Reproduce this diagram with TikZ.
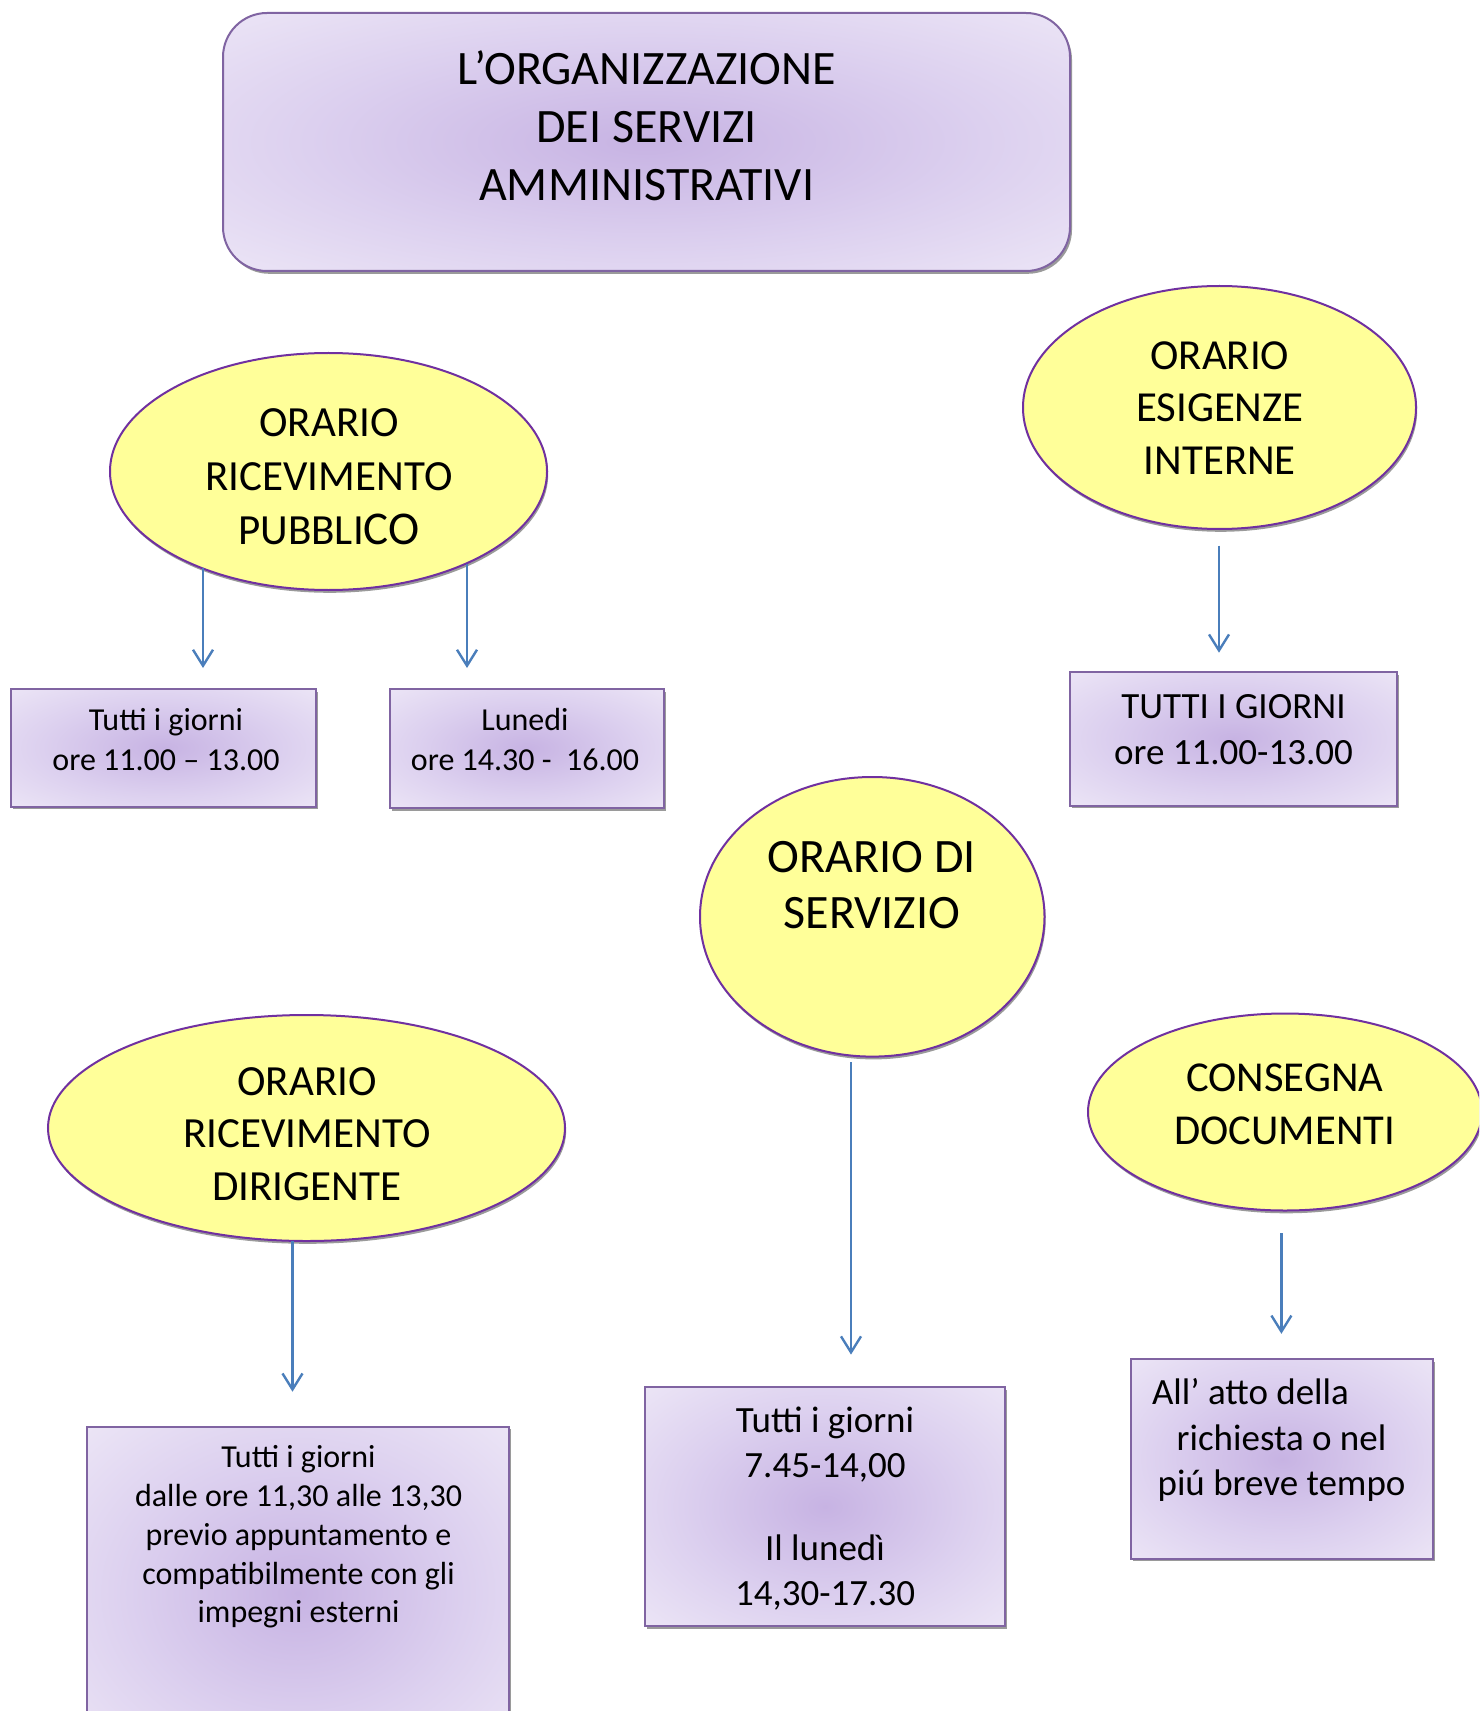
\documentclass[tikz,border=0pt]{standalone}
\usepackage{fontspec}
\setmainfont{Carlito}
\usetikzlibrary{shapes.geometric,arrows.meta,shadows}
\definecolor{ellfill}{HTML}{FFFF99}
\definecolor{ellline}{HTML}{7030A0}
\definecolor{boxline}{HTML}{8064A2}
\definecolor{pin}{HTML}{C7B3E3}
\definecolor{pmid}{HTML}{DCD0EF}
\definecolor{pout}{HTML}{EEE8F7}
\definecolor{arrcol}{HTML}{4A7EBB}
\definecolor{shcol}{HTML}{9A9A9A}
\pgfdeclareradialshading{purpglow}{\pgfpoint{0bp}{0bp}}{color(0bp)=(pin); color(20bp)=(pmid); color(38bp)=(pout); color(50bp)=(pout)}
\tikzset{
  ell/.style={ellipse, draw=ellline, line width=1pt, fill=ellfill, inner sep=0pt, outer sep=0pt,
    drop shadow={shadow xshift=0.6pt, shadow yshift=-1.4pt, fill=shcol, opacity=1}},
  pbox/.style={rectangle, draw=boxline, line width=1pt, shading=purpglow, inner sep=0pt, outer sep=0pt,
    drop shadow={shadow xshift=1pt, shadow yshift=-1.4pt, fill=shcol, opacity=1}},
  tbox/.style={pbox, rounded corners=22pt},
  txt/.style={align=center, inner sep=0pt, text=black},
  arr/.style={draw=arrcol, line width=1.2pt, -{Straight Barb[length=8pt,width=10pt,line width=1.2pt]}},
}
\begin{document}
\begin{tikzpicture}[x=0.5pt,y=-0.5pt]
\useasboundingbox (0,0) rectangle (1479,1711);
\clip (0,0) rectangle (1479,1711);
\fill[white] (0,0) rectangle (1479,1711);
% title
\node[tbox, minimum width=423.5pt, minimum height=129pt] (title) at (646.5,142) {};
\node[txt, font=\fontsize{24}{29}\selectfont] (titlet) at (646.7,125.5) {L’ORGANIZZAZIONE\\DEI SERVIZI\\AMMINISTRATIVI};
% ellipses
\node[ell, minimum width=218.5pt, minimum height=118.5pt] (e1) at (328.5,471.5) {};
\node[txt, font=\fontsize{21.5}{27}\selectfont] (e1t) at (329,476.8) {ORARIO\\RICEVIMENTO\\PUBBLI{\fontsize{23.5}{27}\selectfont CO}};
\node[ell, minimum width=196.5pt, minimum height=121.5pt] (e2) at (1219.5,407.5) {};
\node[txt, font=\fontsize{21.4}{26.3}\selectfont] (e2t) at (1219.8,407.8) {ORARIO\\ESIGENZE\\INTERNE};
\node[ell, minimum width=172.25pt, minimum height=139.8pt] (e3) at (872.25,916.8) {};
\node[txt, font=\fontsize{24}{28.3}\selectfont] (e3t) at (872,885) {ORARIO DI\\SERVIZIO};
\node[ell, minimum width=258.5pt, minimum height=113pt] (e4) at (306.5,1128) {};
\node[txt, font=\fontsize{21.5}{26.2}\selectfont] (e4t) at (307,1134) {ORARIO\\RICEVIMENTO\\DIRIGENTE};
\node[ell, minimum width=197pt, minimum height=98.5pt] (e5) at (1285,1112) {};
\node[txt, font=\fontsize{21.3}{26.2}\selectfont] (e5t) at (1284.7,1104.5) {CONSEGNA\\DOCUMENTI};
% boxes
\node[pbox, minimum width=152.25pt, minimum height=58.8pt] (bA) at (163.25,747.8) {};
\node[txt, font=\fontsize{16}{20}\selectfont] (bAt) at (166,740) {Tutti i giorni\\ore 11.00 – 13.00};
\node[pbox, minimum width=136.95pt, minimum height=59.5pt] (bB) at (526.65,748.5) {};
\node[txt, font=\fontsize{16}{20}\selectfont] (bBt) at (525,740) {Lunedi\\ore 14.30 -\ \ 16.00};
\node[pbox, minimum width=163.5pt, minimum height=66.75pt] (bC) at (1233.5,738.75) {};
\node[txt, font=\fontsize{18.5}{23}\selectfont] (bCt) at (1233.5,730) {TUTTI I GIORNI\\ore 11.00-13.00};
\node[pbox, minimum width=210.8pt, minimum height=166.7pt] (bD) at (297.8,1593.3) {};
\node[txt, font=\fontsize{16}{19.4}\selectfont] (bDt) at (298.5,1537) {Tutti i giorni\\dalle ore 11,30 alle 13,30\\previo appuntamento e\\compatibilmente con gli\\impegni esterni};
\node[pbox, minimum width=180pt, minimum height=119.5pt] (bE) at (825,1506.5) {};
\node[txt, font=\fontsize{18.5}{22.5}\selectfont] (bEt) at (825,1508.5) {Tutti i giorni\\7.45-14,00\\[19pt]Il lunedì\\14,30-17.30};
\node[pbox, minimum width=151pt, minimum height=99.8pt] (bF) at (1282,1458.8) {};
\node[txt, font=\fontsize{18.5}{22.9}\selectfont] (bFt) at (1281.5,1440) {All’ atto della\hspace*{31pt}\\richiesta o nel\\piú breve tempo};
% arrows
\coordinate (a1e) at (203,668);
\coordinate (a2e) at (467,668);
\coordinate (a3s) at (1219,545.7);
\coordinate (a3e) at (1219,652.7);
\coordinate (a4e) at (292.5,1391.7);
\coordinate (a5s) at (851,1062);
\coordinate (a5e) at (851,1354.6);
\coordinate (a6s) at (1281.4,1233.4);
\coordinate (a6e) at (1281.4,1333.8);
\draw[arr] (e1.217.65 -| a1e) -- (a1e);
\draw[arr] (e1.326.5 -| a2e) -- (a2e);
\draw[arr] (a3s) -- (a3e);
\draw[arr] (e4.south -| a4e) -- (a4e);
\draw[arr] (a5s) -- (a5e);
\draw[arr] (a6s) -- (a6e);
\end{tikzpicture}
\end{document}
